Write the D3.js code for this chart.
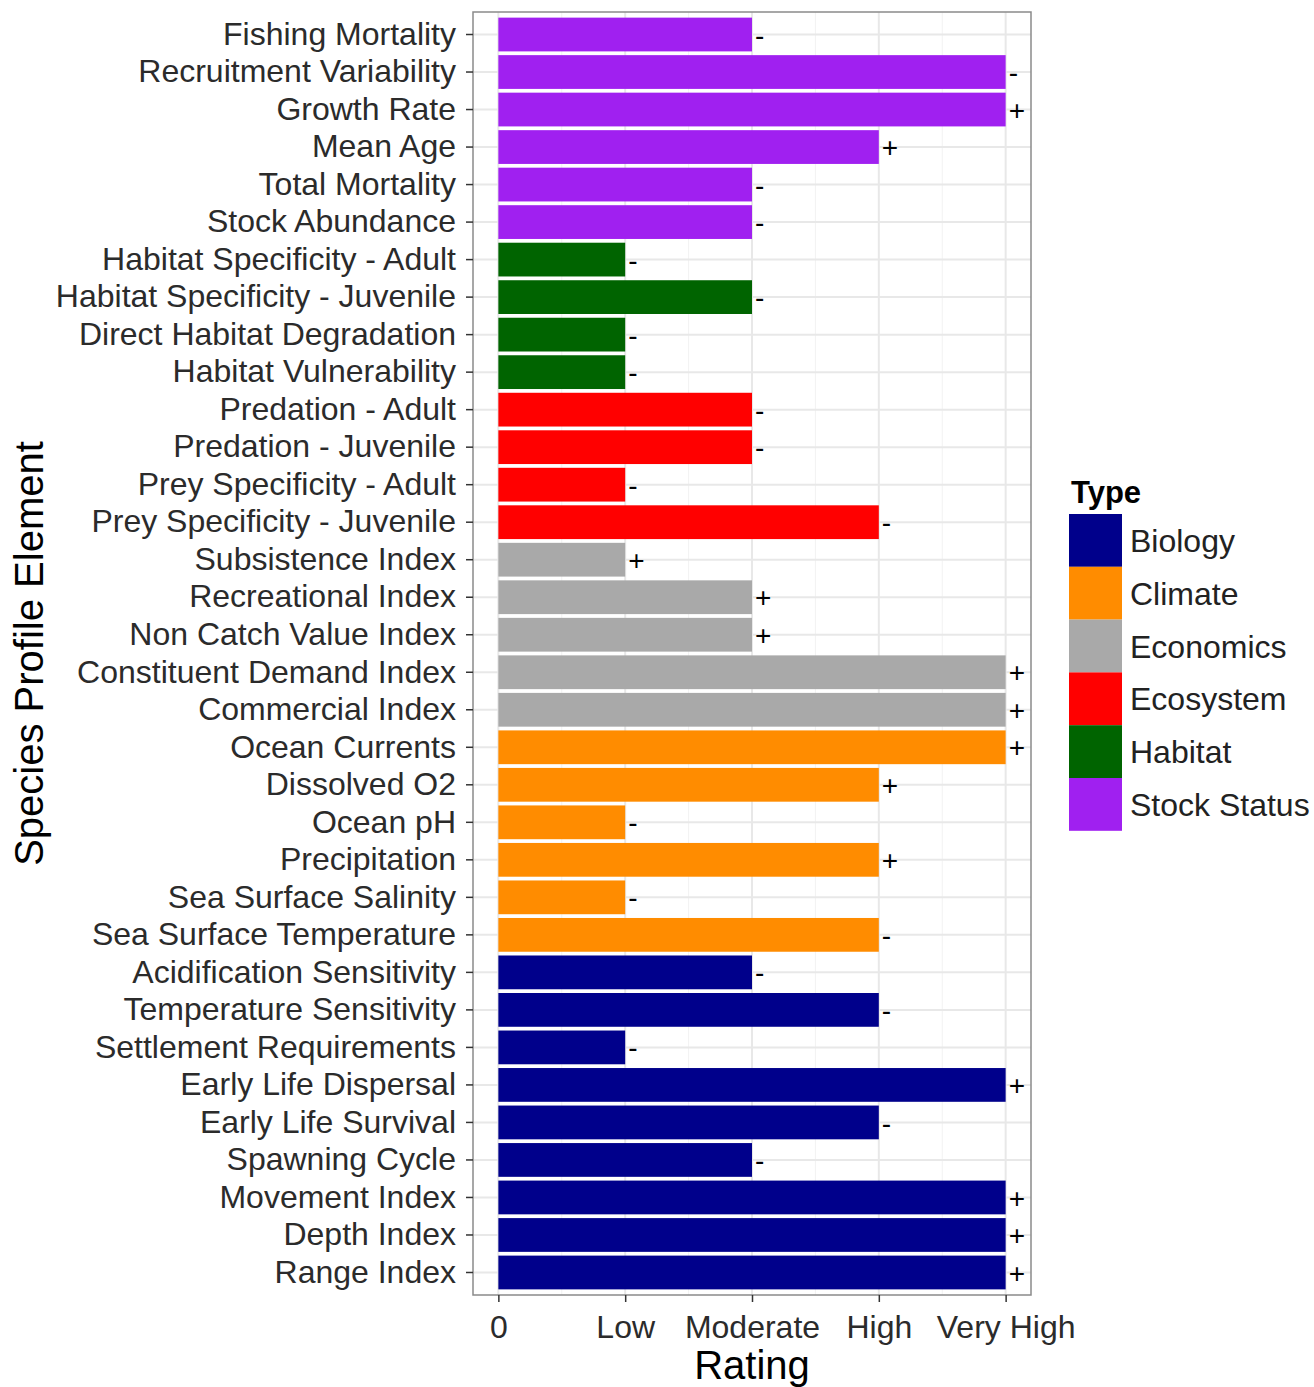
<!DOCTYPE html>
<html>
<head>
<meta charset="utf-8">
<style>
body { margin: 0; background: #fff; }
text { font-family: "Liberation Sans", Arial, sans-serif; }
.tick text { fill: #2b2b2b; }
</style>
<script src="https://d3js.org/d3.v7.min.js"></script>
</head>
<body>
<script>
// rows listed top to bottom
var elements = ["Fishing Mortality", "Recruitment Variability", "Growth Rate", "Mean Age", "Total Mortality", "Stock Abundance",
  "Habitat Specificity - Adult", "Habitat Specificity - Juvenile", "Direct Habitat Degradation", "Habitat Vulnerability",
  "Predation - Adult", "Predation - Juvenile", "Prey Specificity - Adult", "Prey Specificity - Juvenile",
  "Subsistence Index", "Recreational Index", "Non Catch Value Index", "Constituent Demand Index", "Commercial Index",
  "Ocean Currents", "Dissolved O2", "Ocean pH", "Precipitation", "Sea Surface Salinity", "Sea Surface Temperature",
  "Acidification Sensitivity", "Temperature Sensitivity", "Settlement Requirements", "Early Life Dispersal",
  "Early Life Survival", "Spawning Cycle", "Movement Index", "Depth Index", "Range Index"];
var ratings = [2, 4, 4, 3, 2, 2,
  1, 2, 1, 1,
  2, 2, 1, 3,
  1, 2, 2, 4, 4,
  4, 3, 1, 3, 1, 3,
  2, 3, 1, 4, 3, 2, 4, 4, 4];
var signs = ["-", "-", "+", "+", "-", "-",
  "-", "-", "-", "-",
  "-", "-", "-", "-",
  "+", "+", "+", "+", "+",
  "+", "+", "-", "+", "-", "-",
  "-", "-", "-", "+", "-", "-", "+", "+", "+"];
var types = ["Stock Status", "Stock Status", "Stock Status", "Stock Status", "Stock Status", "Stock Status",
  "Habitat", "Habitat", "Habitat", "Habitat",
  "Ecosystem", "Ecosystem", "Ecosystem", "Ecosystem",
  "Economics", "Economics", "Economics", "Economics", "Economics",
  "Climate", "Climate", "Climate", "Climate", "Climate", "Climate",
  "Biology", "Biology", "Biology", "Biology", "Biology", "Biology", "Biology", "Biology", "Biology"];
var typeNames = ["Biology", "Climate", "Economics", "Ecosystem", "Habitat", "Stock Status"];
var typeColors = ["#00008b", "#ff8c00", "#a9a9a9", "#ff0000", "#006400", "#a020f0"];
var tickValues = [0, 1, 2, 3, 4];
var tickLabels = ["0", "Low", "Moderate", "High", "Very High"];

var width = 1314, height = 1387;
var panel = {left: 473, right: 1031, top: 12, bottom: 1295};

var svg = d3.select("body").append("svg")
  .attr("width", width)
  .attr("height", height);

var x = d3.scaleLinear().domain([-0.2, 4.2]).range([panel.left, panel.right]);
// ggplot style: 0.6 step expansion at each end, bars 0.9 wide
var y = d3.scaleBand().domain(elements).range([panel.top, panel.bottom])
  .paddingInner(0.1).paddingOuter(0.15);
var color = d3.scaleOrdinal().domain(typeNames).range(typeColors);

// grid
var g = svg.append("g");
var minor = d3.range(0.5, 4, 1);
g.selectAll(".minor").data(minor).enter().append("line")
  .attr("x1", d => x(d)).attr("x2", d => x(d))
  .attr("y1", panel.top).attr("y2", panel.bottom)
  .attr("stroke", "#f2f2f2").attr("stroke-width", 1);
g.selectAll(".major").data(tickValues).enter().append("line")
  .attr("x1", d => x(d)).attr("x2", d => x(d))
  .attr("y1", panel.top).attr("y2", panel.bottom)
  .attr("stroke", "#e8e8e8").attr("stroke-width", 2);
g.selectAll(".hmajor").data(elements).enter().append("line")
  .attr("x1", panel.left).attr("x2", panel.right)
  .attr("y1", d => y(d) + y.bandwidth() / 2).attr("y2", d => y(d) + y.bandwidth() / 2)
  .attr("stroke", "#e8e8e8").attr("stroke-width", 2);

// bars
var rows = elements.map(function(e, i) { return {name: e, v: ratings[i], s: signs[i], t: types[i]}; });
svg.selectAll(".bar").data(rows).enter().append("rect")
  .attr("x", x(0))
  .attr("y", d => y(d.name))
  .attr("width", d => x(d.v) - x(0))
  .attr("height", y.bandwidth())
  .attr("fill", d => color(d.t));

svg.selectAll(".sign").data(rows).enter().append("text")
  .attr("x", d => x(d.v) + 3)
  .attr("y", d => y(d.name) + y.bandwidth() / 2)
  .attr("dy", "0.36em")
  .attr("font-size", 28)
  .attr("fill", "#000")
  .text(d => d.s);

// panel border
svg.append("rect")
  .attr("x", panel.left).attr("y", panel.top)
  .attr("width", panel.right - panel.left).attr("height", panel.bottom - panel.top)
  .attr("fill", "none").attr("stroke", "#8a8a8a").attr("stroke-width", 1.5);

// axes
var yAxis = svg.append("g").attr("transform", "translate(" + panel.left + ",0)")
  .call(d3.axisLeft(y).tickSize(7).tickPadding(10));
yAxis.select(".domain").remove();
yAxis.selectAll(".tick line").attr("stroke", "#333").attr("stroke-width", 1.5);
yAxis.selectAll(".tick text").attr("font-size", 32);

var xAxis = svg.append("g").attr("transform", "translate(0," + panel.bottom + ")")
  .call(d3.axisBottom(x).tickValues(tickValues).tickFormat((d, i) => tickLabels[i]).tickSize(7).tickPadding(13));
xAxis.select(".domain").remove();
xAxis.selectAll(".tick line").attr("stroke", "#333").attr("stroke-width", 1.5);
xAxis.selectAll(".tick text").attr("font-size", 32).attr("dy", "0.71em");

svg.append("text")
  .attr("x", (panel.left + panel.right) / 2).attr("y", 1379)
  .attr("text-anchor", "middle").attr("font-size", 40)
  .text("Rating");

svg.append("text")
  .attr("transform", "translate(43," + (panel.top + panel.bottom) / 2 + ") rotate(-90)")
  .attr("text-anchor", "middle").attr("font-size", 40)
  .text("Species Profile Element");

// legend
var leg = svg.append("g").attr("transform", "translate(1069,0)");
leg.append("text").attr("x", 2).attr("y", 503)
  .attr("font-size", 31).attr("font-weight", "bold").text("Type");
var key = 52.8;
leg.selectAll(".key").data(typeNames).enter().append("rect")
  .attr("x", 0).attr("y", (d, i) => 514 + i * key)
  .attr("width", 53).attr("height", key)
  .attr("fill", d => color(d));
leg.selectAll(".lab").data(typeNames).enter().append("text")
  .attr("x", 61).attr("y", (d, i) => 514 + i * key + key / 2)
  .attr("dy", "0.36em").attr("font-size", 32).attr("fill", "#222")
  .text(d => d);
</script>
</body>
</html>
